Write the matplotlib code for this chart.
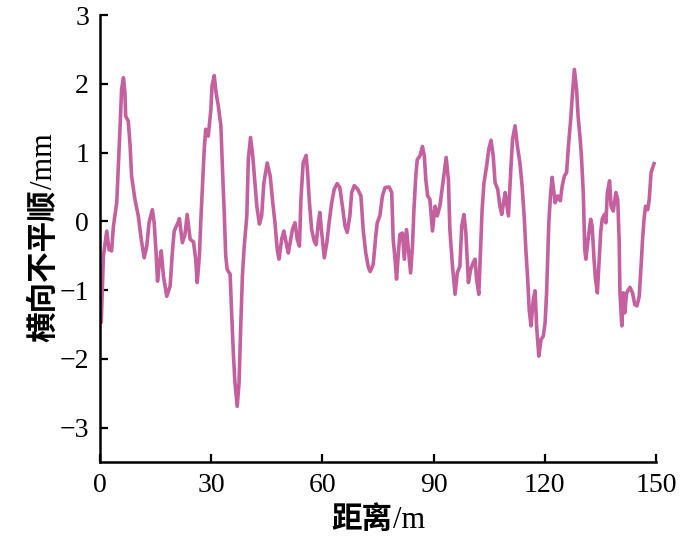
import matplotlib
matplotlib.use("Agg")
import matplotlib.pyplot as plt

distance_m = [
    0.0, 0.3, 0.9, 1.8, 2.4, 3.1, 3.6, 4.5, 4.9, 5.4, 5.8, 6.3, 6.7, 6.9, 7.6, 8.1, 8.5,
    9.4, 10.3, 11.1, 11.9, 12.6, 13.2, 14.1, 14.6, 15.1, 15.5, 15.9, 16.5, 17.1, 18.0,
    18.9, 19.5, 20.0, 21.0, 21.4, 22.2, 22.9, 23.5, 24.3, 25.2, 25.8, 26.2, 26.8, 27.2,
    27.6, 28.1, 28.5, 29.2, 29.9, 30.2, 30.8, 31.3, 31.9, 32.6, 33.0, 33.5, 33.9, 34.3,
    35.1, 35.5, 36.0, 36.4, 37.0, 37.5, 37.9, 38.4, 38.9, 39.6, 40.0, 40.6, 41.2, 41.8,
    42.3, 43.0, 43.6, 44.2, 45.1, 45.9, 46.6, 47.2, 47.8, 48.3, 49.0, 49.6, 50.4, 50.8,
    51.9, 52.6, 53.2, 53.8, 54.2, 54.8, 55.6, 56.0, 56.5, 57.1, 57.8, 58.3, 58.9, 59.3,
    59.8, 60.5, 61.2, 61.8, 62.5, 63.2, 64.0, 64.7, 65.4, 66.1, 66.7, 67.4, 67.9, 68.6,
    69.5, 70.4, 71.0, 71.7, 72.4, 72.9, 73.7, 74.4, 74.8, 75.5, 76.2, 76.9, 78.0, 78.7,
    79.1, 79.6, 80.0, 80.5, 80.9, 81.6, 82.1, 82.7, 83.3, 83.8, 84.3, 84.7, 85.2, 85.6,
    86.3, 87.0, 87.5, 87.9, 88.4, 89.0, 89.7, 90.4, 91.0, 91.7, 92.5, 93.4, 94.0, 94.4,
    95.1, 95.8, 96.4, 97.1, 97.6, 98.2, 98.7, 99.4, 100.0, 100.7, 101.2, 101.6, 102.2,
    102.7, 103.1, 103.6, 104.3, 104.9, 105.5, 106.1, 106.6, 107.3, 107.9, 108.4, 109.3,
    110.2, 110.8, 111.3, 112.0, 112.6, 113.3, 113.9, 114.5, 114.9, 115.4, 115.8, 116.3,
    116.9, 117.4, 117.8, 118.4, 119.0, 119.6, 120.1, 120.5, 120.8, 121.1, 121.6, 122.0,
    122.8, 123.5, 124.2, 124.7, 125.3, 125.9, 126.4, 127.0, 127.5, 128.0, 128.6, 129.0,
    129.5, 129.9, 130.4, 130.6, 130.8, 131.1, 131.7, 132.4, 132.8, 133.3, 133.7, 134.2,
    134.6, 135.1, 135.5, 136.1, 136.5, 136.9, 137.5, 137.9, 138.5, 139.2, 139.7, 140.1,
    140.3, 140.8, 141.2, 141.6, 142.1, 143.0, 143.7, 144.3, 144.9, 145.5, 146.0, 146.4,
    146.8, 147.2, 147.8, 148.2, 148.7, 149.5,
]
irregularity_mm = [
    -1.45, -1.47, -0.50, -0.14, -0.41, -0.43, -0.07, 0.28, 0.76, 1.39, 1.92, 2.09, 1.87,
    1.53, 1.46, 1.10, 0.66, 0.32, 0.08, -0.26, -0.53, -0.36, -0.02, 0.17, -0.02, -0.45,
    -0.87, -0.65, -0.43, -0.80, -1.09, -0.94, -0.45, -0.14, -0.02, 0.04, -0.31, -0.19,
    0.10, -0.26, -0.30, -0.55, -0.89, -0.50, 0.03, 0.47, 1.05, 1.34, 1.24, 1.63, 1.97,
    2.12, 1.87, 1.68, 1.39, 0.80, 0.13, -0.50, -0.70, -0.77, -1.33, -1.96, -2.35, -2.69,
    -2.35, -1.62, -0.80, -0.36, 0.08, 0.90, 1.22, 0.95, 0.56, 0.22, -0.04, 0.08, 0.56,
    0.85, 0.66, 0.27, -0.02, -0.41, -0.55, -0.26, -0.14, -0.36, -0.46, -0.12, -0.02,
    -0.26, -0.36, 0.32, 0.85, 0.96, 0.71, 0.27, -0.12, -0.29, -0.34, -0.02, 0.13, -0.16,
    -0.53, -0.31, -0.02, 0.27, 0.47, 0.55, 0.49, 0.22, -0.07, -0.16, 0.08, 0.42, 0.52,
    0.47, 0.37, -0.12, -0.46, -0.67, -0.73, -0.63, -0.21, -0.02, 0.08, 0.37, 0.49, 0.50,
    0.42, -0.26, -0.55, -0.84, -0.46, -0.19, -0.17, -0.55, -0.12, -0.46, -0.75, -0.36,
    0.17, 0.66, 0.90, 0.95, 1.09, 0.95, 0.61, 0.37, 0.32, -0.14, 0.22, 0.08, 0.22, 0.56,
    0.93, 0.61, -0.12, -0.65, -1.06, -0.75, -0.65, -0.07, 0.10, -0.16, -0.89, -0.70,
    -0.60, -0.55, -0.84, -1.06, -0.36, 0.17, 0.56, 0.80, 1.05, 1.18, 0.95, 0.56, 0.47,
    0.22, 0.10, 0.42, 0.08, 0.71, 1.19, 1.39, 1.10, 0.85, 0.51, 0.03, -0.41, -0.84,
    -1.28, -1.52, -1.14, -1.01, -1.52, -1.96, -1.72, -1.67, -1.47, -1.04, -0.55, -0.02,
    0.42, 0.64, 0.27, 0.37, 0.30, 0.51, 0.66, 0.71, 1.10, 1.48, 1.87, 2.21, 1.92, 1.53,
    1.24, 0.95, 0.42, -0.02, -0.41, -0.55, -0.26, 0.03, -0.07, -0.55, -0.84, -1.04,
    -0.65, -0.16, 0.03, 0.10, -0.02, 0.42, 0.59, 0.22, 0.15, 0.42, 0.32, -0.31, -1.04,
    -1.52, -1.04, -1.33, -1.04, -0.96, -1.04, -1.21, -1.23, -1.09, -0.65, -0.26, 0.03,
    0.22, 0.17, 0.32, 0.71, 0.84,
]
x_ticks = [0, 30, 60, 90, 120, 150]
y_ticks = [-3, -2, -1, 0, 1, 2, 3]
x_label_cjk, x_label_unit = '距离', '/m'
y_label_cjk, y_label_unit = '横向不平顺', '/mm'

latin_cjk = ['Liberation Serif', 'Noto Sans CJK SC']
plt.rcParams['font.family'] = latin_cjk
plt.rcParams['axes.unicode_minus'] = True

fig = plt.figure(figsize=(7, 5.6), dpi=100)
ax = fig.add_axes([0.143, 0.175, 0.794, 0.798])
ax.plot(distance_m, irregularity_mm, color='#C4609E', linewidth=2.6)

ax.set_xlim(0, 150)
ax.set_ylim(-3.5, 3)
ax.set_xticks(x_ticks)
ax.set_yticks(y_ticks)
ax.spines['top'].set_visible(False)
ax.spines['right'].set_visible(False)
for s in ('left', 'bottom'):
    ax.spines[s].set_linewidth(1.8)
ax.tick_params(direction='in', length=6, width=1.6, labelsize=20, pad=8)

# Axis labels: bold CJK part followed by regular Latin unit
fig.canvas.draw()
renderer = fig.canvas.get_renderer()
W, H = fig.bbox.width, fig.bbox.height

# x label centred at ~ (378, 518) px from top-left
tx1 = fig.text(0, 0, x_label_cjk, fontsize=22, fontweight='bold',
               family='Noto Sans CJK SC', ha='left', va='baseline')
tx2 = fig.text(0, 0, x_label_unit, fontsize=22, family='Liberation Serif',
               ha='left', va='baseline')
w1 = tx1.get_window_extent(renderer).width
w2 = tx2.get_window_extent(renderer).width
cx = ax.get_position().x0 * W + ax.get_position().width * W / 2
base_y = 560 - 528
x0 = cx - (w1 + w2) / 2
tx1.set_position((x0 / W, base_y / H))
tx2.set_position(((x0 + w1 + 1) / W, base_y / H))

# y label, rotated, centred vertically at ~238 px from top
ty1 = fig.text(0, 0, y_label_cjk, fontsize=22, fontweight='bold',
               family='Noto Sans CJK SC', rotation=90, ha='left', va='bottom',
               rotation_mode='anchor')
ty2 = fig.text(0, 0, y_label_unit, fontsize=22, family='Liberation Serif',
               rotation=90, ha='left', va='baseline', rotation_mode='anchor')
h1 = ty1.get_window_extent(renderer).height
h2 = ty2.get_window_extent(renderer).height
cy = 560 - 238
y0 = cy - (h1 + h2) / 2
base_x = 52
ty1.set_position(((base_x - 5) / W, y0 / H))
ty1.set_va('baseline')
ty2.set_position((base_x / W, (y0 + h1 + 1) / H))
ty1.set_position((base_x / W, y0 / H))

fig.savefig('out.png', dpi=100)
